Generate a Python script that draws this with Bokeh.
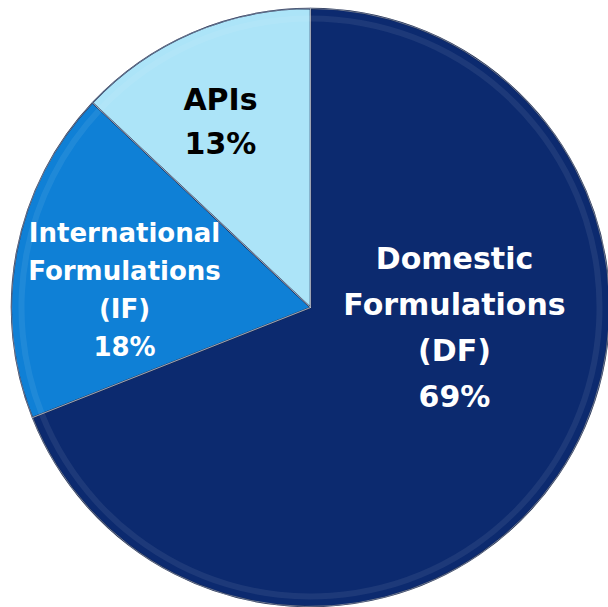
import math
from bokeh.plotting import figure
from bokeh.models import ColumnDataSource, Range1d
from bokeh.embed import file_html
from bokeh.resources import INLINE

# ---- data ----
segments = ["Domestic Formulations (DF)", "International Formulations (IF)", "APIs"]
shares = [69, 18, 13]
label_lines = [["Domestic", "Formulations", "(DF)", "69%"],
               ["International", "Formulations", "(IF)", "18%"],
               ["APIs", "13%"]]

# ---- styles / layout ----
colors = ["#0c2a6f", "#0f80d6", "#ace4f8"]
text_colors = ["#ffffff", "#ffffff", "#000000"]
font_sizes = [30, 26, 30]
line_steps = [46, 38, 44]
label_centers = [(454, 280), (124, 318), (220, 486)]  # in plot units (y up)
W, H = 608, 607
cx, cy, R = 310, 300, 299

p = figure(width=W, height=H, output_backend="svg", toolbar_location=None,
           x_range=Range1d(0, W), y_range=Range1d(0, H), min_border=0)
p.axis.visible = False
p.grid.visible = False
p.outline_line_color = None
p.background_fill_color = "white"

total = float(sum(shares))
starts, ends = [], []
cum = 0.0
for s in shares:
    starts.append(math.pi / 2 - cum / total * 2 * math.pi)
    cum += s
    ends.append(math.pi / 2 - cum / total * 2 * math.pi)

src = ColumnDataSource(dict(start=starts, end=ends, color=colors, seg=segments))
p.wedge(x=cx, y=cy, radius=R, start_angle="start", end_angle="end",
        direction="clock", fill_color="color", line_color="#1a2a50",
        line_width=1.5, source=src)
# subtle bevel highlight along rim
p.annular_wedge(x=cx, y=cy, inner_radius=R - 13, outer_radius=R - 7,
                start_angle="start", end_angle="end", direction="clock",
                fill_color="white", fill_alpha=0.07, line_color=None, source=src)
# thin light separators
p.wedge(x=cx, y=cy, radius=R, start_angle="start", end_angle="end",
        direction="clock", fill_color=None, line_color="white", line_alpha=0.35,
        line_width=1, source=src)

xs, ys, txt, tc, fs = [], [], [], [], []
for i, lines in enumerate(label_lines):
    n = len(lines)
    x0, y0 = label_centers[i]
    for j, ln in enumerate(lines):
        xs.append(x0)
        ys.append(y0 + ((n - 1) / 2 - j) * line_steps[i])
        txt.append(ln)
        tc.append(text_colors[i])
        fs.append(f"{font_sizes[i]}px")
tsrc = ColumnDataSource(dict(x=xs, y=ys, t=txt, c=tc, fs=fs))
p.text(x="x", y="y", text="t", text_color="c", text_font_size="fs",
       text_font={"value": "DejaVu Sans"}, text_font_style="bold",
       text_align="center", text_baseline="middle", source=tsrc)

open("out.html", "w").write(file_html(p, INLINE))
